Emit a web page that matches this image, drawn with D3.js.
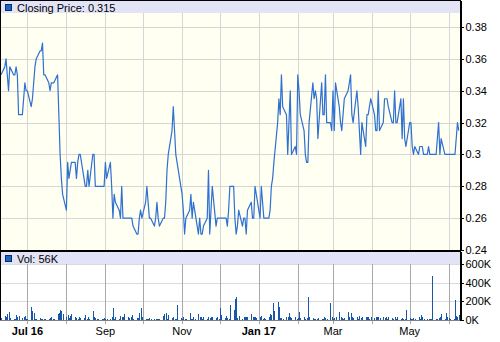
<!DOCTYPE html>
<html>
<head>
<meta charset="utf-8">
<script src="https://cdn.jsdelivr.net/npm/d3@7"></script>
<style>
    html, body { margin: 0; padding: 0; background: #fff; }
    #priceChart { width: 500px; height: 342px; }
    #priceChart svg { display: block; font-family: "Liberation Sans", Arial, sans-serif; font-size: 11px; }
</style>
</head>
<body>
<div id="priceChart"></div>
<script>
// ===================================
// CLOSING PRICE + VOLUME
// ===================================

// one value per weekday, startDate .. endDate
const startDate = '2016-06-10';
const endDate = '2017-06-09';

const closePrices = [
    0.35, 0.355, 0.36, 0.35, 0.34, 0.355, 0.35, 0.35, 0.355, 0.35,
    0.325, 0.325, 0.335, 0.345, 0.34, 0.34, 0.33, 0.335, 0.345, 0.355,
    0.36, 0.365, 0.365, 0.37, 0.35, 0.35, 0.345, 0.34, 0.345, 0.345,
    0.345, 0.35, 0.325, 0.30, 0.285, 0.275, 0.265, 0.295, 0.285, 0.29,
    0.295, 0.295, 0.285, 0.295, 0.30, 0.30, 0.285, 0.28, 0.28, 0.29,
    0.28, 0.30, 0.30, 0.28, 0.28, 0.28, 0.28, 0.28, 0.28, 0.295,
    0.285, 0.295, 0.28, 0.26, 0.275, 0.27, 0.265, 0.26, 0.28, 0.26,
    0.26, 0.26, 0.26, 0.26, 0.26, 0.255, 0.25, 0.25, 0.26, 0.265,
    0.26, 0.27, 0.28, 0.27, 0.26, 0.26, 0.255, 0.26, 0.27, 0.26,
    0.255, 0.26, 0.26, 0.27, 0.29, 0.30, 0.315, 0.33, 0.315, 0.30,
    0.295, 0.28, 0.275, 0.265, 0.25, 0.26, 0.265, 0.275, 0.26, 0.27,
    0.265, 0.25, 0.26, 0.25, 0.25, 0.255, 0.26, 0.29, 0.25, 0.265,
    0.28, 0.255, 0.26, 0.26, 0.26, 0.26, 0.26, 0.26, 0.255, 0.265,
    0.28, 0.28, 0.26, 0.25, 0.255, 0.265, 0.255, 0.26, 0.26, 0.25,
    0.265, 0.27, 0.26, 0.26, 0.28, 0.275, 0.26, 0.28, 0.27, 0.26,
    0.26, 0.26, 0.265, 0.28, 0.285, 0.295, 0.32, 0.335, 0.325, 0.35,
    0.33, 0.325, 0.30, 0.32, 0.34, 0.30, 0.305, 0.30, 0.35, 0.34,
    0.325, 0.315, 0.30, 0.295, 0.295, 0.32, 0.345, 0.335, 0.34, 0.335,
    0.31, 0.345, 0.325, 0.325, 0.35, 0.32, 0.32, 0.315, 0.34, 0.315,
    0.345, 0.33, 0.32, 0.315, 0.325, 0.335, 0.34, 0.345, 0.35, 0.325,
    0.32, 0.34, 0.33, 0.315, 0.30, 0.32, 0.305, 0.325, 0.325, 0.33,
    0.335, 0.325, 0.315, 0.315, 0.34, 0.315, 0.32, 0.335, 0.335, 0.335,
    0.33, 0.32, 0.32, 0.34, 0.32, 0.32, 0.335, 0.31, 0.335, 0.31,
    0.305, 0.32, 0.32, 0.305, 0.30, 0.305, 0.30, 0.305, 0.305, 0.305,
    0.30, 0.30, 0.305, 0.30, 0.30, 0.30, 0.30, 0.31, 0.32, 0.30,
    0.31, 0.30, 0.30, 0.30, 0.30, 0.30, 0.30, 0.30, 0.31, 0.32,
    0.315
];

// volume in thousands
const volumes = [
    20, 43, 36, 64, 90, 20, 14, 7, 50, 36,
    43, 21, 36, 43, 10, 14, 140, 100, 78, 14,
    7, 20, 10, 14, 7, 14, 7, 20, 28, 7,
    14, 64, 78, 107, 100, 64, 36, 50, 21, 43,
    64, 28, 21, 14, 28, 21, 21, 50, 14, 36,
    14, 100, 36, 21, 7, 14, 14, 7, 21, 14,
    7, 7, 28, 125, 14, 28, 14, 43, 36, 36,
    64, 28, 21, 36, 50, 14, 21, 21, 78, 125,
    28, 14, 14, 7, 21, 14, 7, 14, 7, 7,
    7, 43, 64, 78, 14, 50, 21, 36, 14, 14,
    157, 21, 14, 28, 14, 7, 78, 14, 7, 28,
    14, 64, 36, 28, 14, 28, 14, 28, 21, 28,
    36, 21, 36, 14, 125, 50, 21, 43, 21, 14,
    157, 110, 221, 242, 21, 43, 14, 36, 28, 28,
    28, 64, 36, 28, 28, 21, 36, 43, 14, 21,
    14, 28, 64, 50, 185, 100, 196, 143, 21, 21,
    14, 28, 36, 78, 28, 21, 28, 14, 21, 90,
    21, 28, 14, 21, 242, 28, 21, 14, 14, 14,
    21, 14, 7, 36, 21, 14, 178, 28, 14, 21,
    28, 90, 28, 21, 14, 21, 85, 28, 78, 28,
    21, 36, 14, 43, 21, 36, 28, 28, 28, 14,
    28, 21, 36, 28, 28, 21, 28, 21, 36, 14,
    28, 21, 14, 28, 14, 28, 14, 21, 14, 14,
    107, 21, 14, 7, 21, 14, 28, 14, 50, 28,
    14, 7, 14, 7, 14, 470, 14, 14, 21, 28,
    64, 14, 78, 36, 21, 14, 7, 215, 43, 28,
    56
];

const priceTicks = [0.24, 0.26, 0.28, 0.30, 0.32, 0.34, 0.36, 0.38];
const volumeTicks = [0, 200, 400, 600];
const monthLabels = ['Jul 16', '', 'Sep', '', 'Nov', '', 'Jan 17', '', 'Mar', '', 'May', ''];
const priceLegend = 'Closing Price: 0.315';
const volumeLegend = 'Vol: 56K';

class PriceChart {
    constructor(selector) {
        this.selector = selector;
        this.width = 500;
        this.height = 342;
        this.right = 460;
        this.priceBox = { top: 0, bottom: 250 };
        this.volBox = { top: 252, bottom: 320 };
        this.init();
    }

    init() {
        this.buildData();
        this.buildScales();
        this.render();
    }

    buildData() {
        const parse = d3.timeParse('%Y-%m-%d');
        this.start = parse(startDate);
        this.end = d3.timeDay.offset(parse(endDate), 1);
        const days = d3.timeDay.range(this.start, this.end)
            .filter(d => d.getDay() !== 0 && d.getDay() !== 6);

        this.data = days.map((date, i) => ({
            date,
            close: closePrices[i],
            vol: volumes[i]
        })).filter(d => d.close !== undefined);

        this.months = d3.timeMonth.range(d3.timeMonth.ceil(this.start), this.end);
    }

    buildScales() {
        this.x = d3.scaleTime()
            .domain([this.start, this.end])
            .range([1, this.right]);

        this.yPrice = d3.scaleLinear()
            .domain([0.24, 0.397])
            .range([this.priceBox.bottom, this.priceBox.top]);

        this.yVol = d3.scaleLinear()
            .domain([0, 740])
            .range([this.volBox.bottom, 251]);
    }

    render() {
        const svg = d3.select(this.selector)
            .append('svg')
            .attr('width', this.width)
            .attr('height', this.height);
        this.svg = svg;

        const x = this.x, yPrice = this.yPrice, yVol = this.yVol;
        const px = d => Math.round(x(d)) + 0.5;

        // Фоны панелей
        svg.append('rect')
            .attr('x', 0).attr('y', 0)
            .attr('width', this.right).attr('height', this.priceBox.bottom)
            .attr('fill', '#fffff2');

        // Сетка цены
        const grid = svg.append('g').attr('shape-rendering', 'crispEdges');
        grid.selectAll('.vgrid')
            .data(this.months)
            .join('line')
            .attr('x1', px).attr('x2', px)
            .attr('y1', 0).attr('y2', this.priceBox.bottom)
            .attr('stroke', '#d6d6d6');

        grid.selectAll('.hgrid')
            .data(priceTicks.slice(1))
            .join('line')
            .attr('x1', 0).attr('x2', this.right)
            .attr('y1', d => Math.round(yPrice(d)) + 0.5)
            .attr('y2', d => Math.round(yPrice(d)) + 0.5)
            .attr('stroke', '#d6d6d6');

        // Сетка объёма
        grid.append('g').selectAll('line')
            .data(volumeTicks.slice(1))
            .join('line')
            .attr('x1', 0).attr('x2', this.right)
            .attr('y1', d => Math.round(yVol(d)) + 0.5)
            .attr('y2', d => Math.round(yVol(d)) + 0.5)
            .attr('stroke', '#dcdcdc');

        grid.append('g').selectAll('line')
            .data(this.months)
            .join('line')
            .attr('x1', px).attr('x2', px)
            .attr('y1', this.volBox.top).attr('y2', this.volBox.bottom + 4)
            .attr('stroke', '#a8a8a8');

        // Полосы легенды
        svg.append('rect')
            .attr('x', 1).attr('y', 1)
            .attr('width', this.right - 1).attr('height', 12)
            .attr('fill', '#e3e3f7');
        svg.append('rect')
            .attr('x', 1).attr('y', this.volBox.top)
            .attr('width', this.right - 1).attr('height', 12)
            .attr('fill', '#e3e3f7');

        // Линия цены
        const line = d3.line()
            .x(d => x(d.date))
            .y(d => yPrice(d.close));

        svg.append('path')
            .datum(this.data)
            .attr('fill', 'none')
            .attr('stroke', '#2f70d0')
            .attr('stroke-width', 1.2)
            .attr('stroke-linejoin', 'round')
            .attr('d', line);

        // Столбики объёма
        svg.append('g')
            .attr('shape-rendering', 'crispEdges')
            .selectAll('line')
            .data(this.data)
            .join('line')
            .attr('x1', d => px(d.date)).attr('x2', d => px(d.date))
            .attr('y1', yVol(0))
            .attr('y2', d => yVol(d.vol))
            .attr('stroke', '#1a55a8');

        // Рамки
        const frame = svg.append('g').attr('shape-rendering', 'crispEdges');
        frame.append('line')
            .attr('x1', 0).attr('x2', this.right)
            .attr('y1', this.volBox.bottom + 0.5).attr('y2', this.volBox.bottom + 0.5)
            .attr('stroke', '#808080');
        frame.append('line')
            .attr('x1', 0).attr('x2', this.right + 1)
            .attr('y1', 0.5).attr('y2', 0.5)
            .attr('stroke', '#000');
        frame.append('line')
            .attr('x1', 0.5).attr('x2', 0.5)
            .attr('y1', 0).attr('y2', this.volBox.bottom)
            .attr('stroke', '#000');
        frame.append('rect')
            .attr('x', 0).attr('y', this.priceBox.bottom)
            .attr('width', this.right).attr('height', 2)
            .attr('fill', '#000');

        // Оси справа
        const priceAxis = d3.axisRight(yPrice)
            .tickValues(priceTicks)
            .tickSize(3)
            .tickSizeOuter(0)
            .tickPadding(2)
            .tickFormat(d => +d.toFixed(2));

        const volAxis = d3.axisRight(yVol)
            .tickValues(volumeTicks)
            .tickSize(3)
            .tickSizeOuter(0)
            .tickPadding(2)
            .tickFormat(d => d + 'K');

        [priceAxis, volAxis].forEach((axis, i) => {
            const g = svg.append('g')
                .attr('transform', `translate(${this.right + 0.5},0)`)
                .attr('shape-rendering', 'crispEdges')
                .call(axis);
            g.select('.domain').attr('stroke', '#000');
            g.selectAll('.tick line').attr('stroke', '#000');
            g.selectAll('text')
                .attr('fill', '#000')
                .style('font-family', '"Liberation Sans", Arial, sans-serif')
                .style('font-size', '11px');
        });
        svg.append('line')
            .attr('x1', this.right + 0.5).attr('x2', this.right + 0.5)
            .attr('y1', 0).attr('y2', this.volBox.bottom + 1)
            .attr('stroke', '#000')
            .attr('shape-rendering', 'crispEdges');

        // Подписи месяцев
        svg.append('g')
            .selectAll('text')
            .data(this.months.map((m, i) => ({ m, label: monthLabels[i] })).filter(d => d.label))
            .join('text')
            .attr('x', d => x(d.m))
            .attr('y', 335)
            .attr('text-anchor', 'middle')
            .attr('font-weight', d => /\d/.test(d.label) ? 'bold' : 'normal')
            .attr('fill', '#000')
            .text(d => d.label);

        // Легенды
        [[priceLegend, 1], [volumeLegend, this.volBox.top]].forEach(([text, top]) => {
            svg.append('rect')
                .attr('x', 5.5).attr('y', top + 3.5)
                .attr('width', 6).attr('height', 6)
                .attr('fill', '#1565c8')
                .attr('stroke', '#0b2a66');
            svg.append('text')
                .attr('x', 17).attr('y', top + 10.5)
                .attr('fill', '#000')
                .text(text);
        });
    }
}

let priceChart;
document.addEventListener('DOMContentLoaded', () => {
    if (typeof d3 !== 'undefined') {
        priceChart = new PriceChart('#priceChart');
    }
});
</script>
</body>
</html>
